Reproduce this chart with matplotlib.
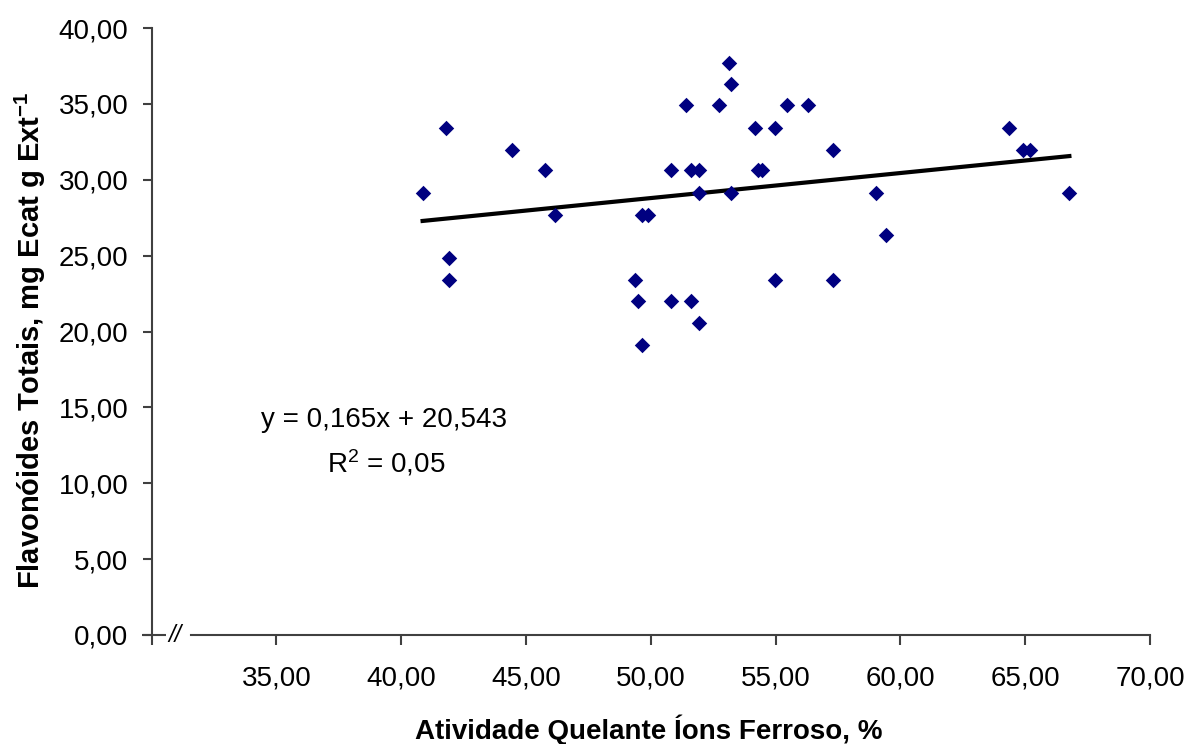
import matplotlib
matplotlib.use("Agg")
import matplotlib.pyplot as plt
import numpy as np

plt.rcParams['font.family'] = ['Liberation Sans', 'DejaVu Sans']
plt.rcParams['mathtext.fontset'] = 'custom'
plt.rcParams['mathtext.rm'] = 'Liberation Sans'
plt.rcParams['mathtext.it'] = 'Liberation Sans:italic'
plt.rcParams['mathtext.bf'] = 'Liberation Sans:bold'

# Data
quelante = [40.86, 41.80, 41.90, 41.90, 44.46, 45.77, 46.18, 49.38, 49.47, 49.66,
            49.66, 49.89, 50.81, 50.81, 51.40, 51.60, 51.60, 51.93, 51.93, 51.93,
            52.72, 53.12, 53.23, 53.23, 54.16, 54.30, 54.46, 54.97, 54.97, 55.44,
            56.28, 57.31, 57.31, 59.03, 59.44, 64.35, 64.90, 65.18, 66.77]
flavonoides = [29.15, 33.44, 24.84, 23.39, 31.96, 30.62, 27.68, 23.39, 22.03, 19.13,
               27.68, 27.68, 30.62, 22.03, 34.91, 30.62, 22.03, 30.62, 29.15, 20.56,
               34.91, 37.71, 36.29, 29.15, 33.44, 30.62, 30.62, 33.44, 23.39, 34.91,
               34.91, 31.96, 23.39, 29.15, 26.33, 33.44, 31.96, 31.96, 29.15]
slope = 0.165
intercept = 20.543
r2_text = "0,05"
x_ticks = [35, 40, 45, 50, 55, 60, 65, 70]
y_ticks = [0, 5, 10, 15, 20, 25, 30, 35, 40]

def br(v):
    return f"{v:.2f}".replace(".", ",")

W, H = 1188, 744
fig = plt.figure(figsize=(W / 100, H / 100), dpi=100)
ax = fig.add_axes([151.5 / W, 1 - 635 / H, (1150 - 151.5) / W, (635 - 28) / H])

ax.set_xlim(30, 70)
ax.set_ylim(0, 40)

spine_col = '#404040'
ax.spines['top'].set_visible(False)
ax.spines['right'].set_visible(False)
ax.spines['left'].set_color(spine_col)
ax.spines['left'].set_linewidth(1.5)
ax.spines['bottom'].set_color(spine_col)
ax.spines['bottom'].set_linewidth(1.5)
ax.spines['bottom'].set_bounds(31.6, 70)

ax.set_xticks([30] + x_ticks)
ax.set_xticklabels([""] + [br(v) for v in x_ticks])
ax.set_yticks(y_ticks)
ax.set_yticklabels([br(v) for v in y_ticks])
ax.tick_params(axis='x', direction='out', length=7.5, width=1.5, color=spine_col,
               labelsize=20, pad=14.5)
ax.tick_params(axis='y', direction='out', length=6.5, width=1.5, color=spine_col,
               labelsize=20, pad=10)

# short segment left of the axis break and the break mark
ax.plot([29.6, 30.6], [0, 0], color=spine_col, lw=1.5, clip_on=False,
        solid_capstyle='butt', zorder=3)
ax.text(30.95, 0, "//", fontsize=17, ha='center', va='center', color='black',
        style='italic', clip_on=False)

ax.scatter(quelante, flavonoides, marker='D', s=62, color='#000080', zorder=4,
           linewidths=0, clip_on=False)

xl = np.array([min(quelante), max(quelante)])
ax.plot(xl, slope * xl + intercept, color='black', lw=3, zorder=3)

ax.text(39.31, 14.17, "y = 0,165x + 20,543", fontsize=20, ha='center', va='center')
ax.text(39.39, 11.33, "R$\\mathregular{^2}$ = " + r2_text, fontsize=20, ha='center',
        va='center')

fig.text(649 / W, 1 - 730 / H, "Atividade Quelante Íons Ferroso, %", fontsize=20,
         fontweight='bold', ha='center', va='center')
fig.text(30 / W, 1 - 340 / H, "Flavonóides Totais, mg Ecat g Ext$\\mathbf{^{-1}}$",
         fontsize=21, fontweight='bold', ha='center', va='center', rotation=90)

fig.savefig("out.png", dpi=100)
